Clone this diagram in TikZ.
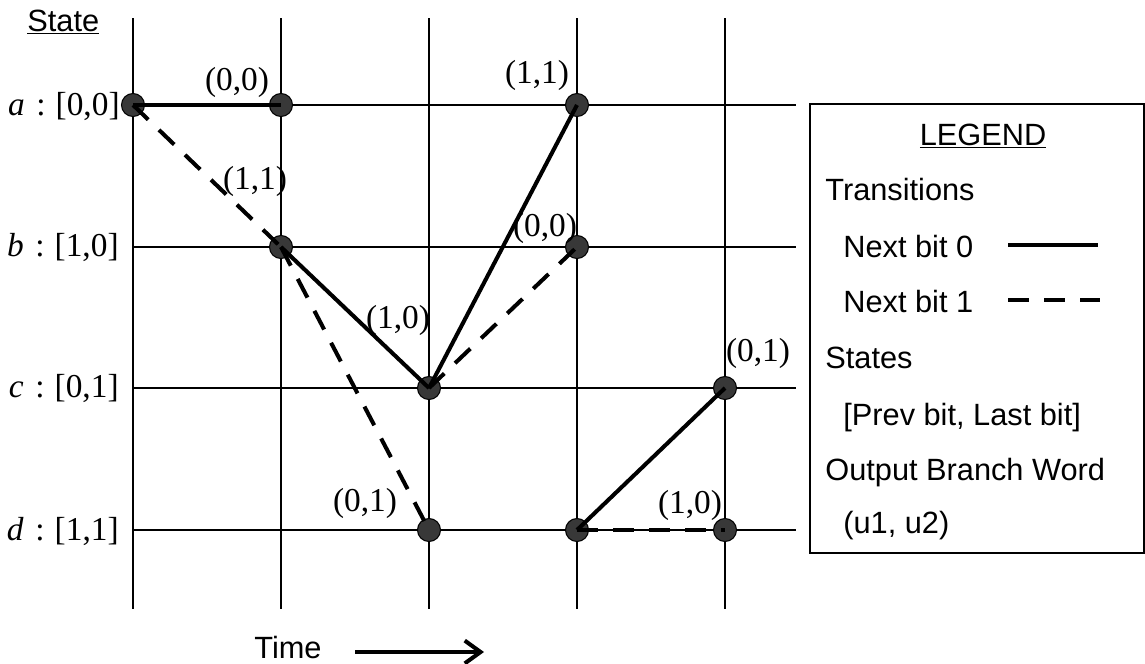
\documentclass[tikz,border=0pt]{standalone}
\usepackage{fontspec}
\setmainfont{Liberation Sans}
\newfontfamily\tnr{Liberation Serif}
\usetikzlibrary{arrows.meta}

\begin{document}
\begin{tikzpicture}[x=0.02cm,y=-0.02cm]

\tikzset{state/.style = {shape=circle,draw=black,fill=black!78,line width=0.6pt,minimum size=0.46cm,inner sep=0pt}}
\tikzset{zero/.style = {line width=2.3pt}}
\tikzset{one/.style = {line width=2.3pt,dash pattern=on 12pt off 8.5pt}}
\tikzset{word/.style = {font=\tnr\fontsize{19}{21}\selectfont,inner sep=0pt}}
\tikzset{txt/.style = {font=\fontsize{17.5}{20}\selectfont,inner sep=0pt,anchor=base west}}

\useasboundingbox (0,0) rectangle (1145,663);
% grid
\foreach \x in {133,281,429,577,725} \draw[line width=0.85pt] (\x,18) -- (\x,609);
\foreach \y in {105,247,388,530} \draw[line width=0.85pt] (133,\y) -- (796,\y);
% vertices
\node[state] (a0) at (133,105) {};
\node[state] (a1) at (281,105) {};
\node[state] (a3) at (577,105) {};
\node[state] (b1) at (281,247) {};
\node[state] (b3) at (577,247) {};
\node[state] (c2) at (429,388) {};
\node[state] (c4) at (725,388) {};
\node[state] (d2) at (429,530) {};
\node[state] (d3) at (577,530) {};
\node[state] (d4) at (725,530) {};
%edges
\path[zero] (a0.center) edge (a1.center);
\path[one] (a0.center) edge (b1.center);
\path[zero] (b1.center) edge (c2.center);
\path[one] (b1.center) edge (d2.center);
\path[zero] (c2.center) edge (a3.center);
\path[one] (c2.center) edge (b3.center);
\path[zero] (d3.center) edge (c4.center);
\path[one] (d3.center) edge (d4.center);
% branch words
\node[word] (w1) at (237,82) {(0,0)};
\node[word] (w2) at (255,181) {(1,1)};
\node[word] (w3) at (537,75) {(1,1)};
\node[word] (w4) at (545,228) {(0,0)};
\node[word] (w5) at (398,320) {(1,0)};
\node[word] (w6) at (365,503) {(0,1)};
\node[word] (w7) at (758,353) {(0,1)};
\node[word] (w8) at (690,505) {(1,0)};
% states
\node[word,anchor=east] (sa) at (120,106) {\textit{a}\hspace{0.35em}:\hspace{0.3em}[0,0]};
\node[word,anchor=east] (sb) at (119,247) {\textit{b}\hspace{0.35em}:\hspace{0.3em}[1,0]};
\node[word,anchor=east] (sc) at (119,388) {\textit{c}\hspace{0.35em}:\hspace{0.3em}[0,1]};
\node[word,anchor=east] (sd) at (119,531) {\textit{d}\hspace{0.35em}:\hspace{0.3em}[1,1]};
\node[txt] (state) at (27,31) {\underline{State}};
% time
\node[txt] (time) at (254,658) {Time};
\coordinate (tstart) at (355,652);
\coordinate (tend) at (484,652);
\draw[line width=2.3pt,-{Straight Barb[length=9pt,width=13pt]}] (tstart) -- (tend);
% legend
\draw[line width=1.2pt] (810,104) rectangle (1144,553);
\node[txt,anchor=base] (lgd) at (983,145) {\underline{LEGEND}};
\node[txt] (trans) at (825,200) {Transitions};
\node[txt] (nb0) at (843,257) {Next bit 0};
\node[txt] (nb1) at (843,312) {Next bit 1};
\node[txt] (sts) at (825,368) {States};
\node[txt] (prev) at (843,425) {[Prev bit, Last bit]};
\node[txt] (obw) at (825,480) {Output Branch Word};
\node[txt] (u12) at (843,533) {(u1, u2)};
\coordinate (z0s) at (1008,245);
\coordinate (z0e) at (1098,245);
\coordinate (z1s) at (1008,300);
\coordinate (z1e) at (1100,300);
\path[zero] (z0s) edge (z0e);
\path[one] (z1s) edge (z1e);
\end{tikzpicture}
\end{document}
